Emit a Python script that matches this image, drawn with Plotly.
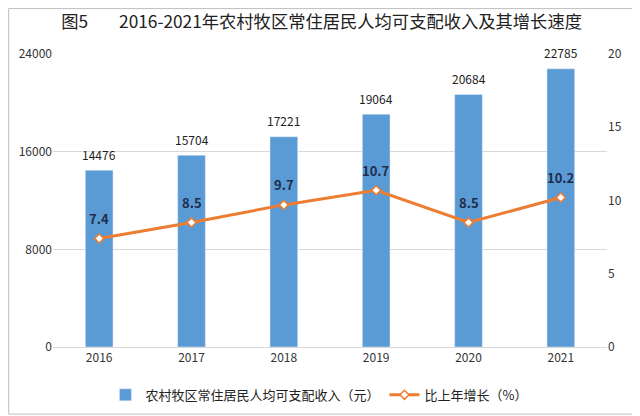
import plotly.graph_objects as go

years = ["2016", "2017", "2018", "2019", "2020", "2021"]
income = [14476, 15704, 17221, 19064, 20684, 22785]
growth = [7.4, 8.5, 9.7, 10.7, 8.5, 10.2]

font_cn = "Noto Sans CJK SC"

fig = go.Figure()
fig.add_trace(go.Bar(
    x=years, y=income, name="农村牧区常住居民人均可支配收入（元）",
    marker_color="#5B9BD5", width=0.3,
))
fig.add_trace(go.Scatter(
    x=years, y=growth, name="比上年增长（%）", yaxis="y2",
    mode="lines+markers", line=dict(color="#ED7D31", width=3),
    marker=dict(symbol="diamond", size=7, color="white",
                line=dict(color="#ED7D31", width=1.5)),
))

# 柱顶数值（类别轴上注释用序号定位）
for i, v in enumerate(income):
    fig.add_annotation(x=i, y=v, xref="x", yref="y", text=str(v), showarrow=False,
                       yanchor="middle", yshift=16, font=dict(size=12, color="#222222"))
# 增长率标签放在点上方
for i, g in enumerate(growth):
    fig.add_annotation(x=i, y=g, xref="x", yref="y2", text=f"<b>{g}</b>", showarrow=False,
                       yanchor="middle", yshift=20, font=dict(size=13, color="#1F2D4D"))

fig.update_layout(
    width=640, height=416,
    margin=dict(l=45, r=41, t=46, b=77),
    paper_bgcolor="white", plot_bgcolor="white",
    font=dict(family=font_cn, size=12, color="#333333"),
    title=dict(text="图5        2016-2021年农村牧区常住居民人均可支配收入及其增长速度",
               x=0.49, xanchor="center", y=0.966, yanchor="middle",
               font=dict(size=17.3, color="#222222")),
    xaxis=dict(type="category", showline=True, linecolor="#D9D9D9", ticks="",
               tickfont=dict(size=12), automargin=False),
    yaxis=dict(range=[0, 24000], dtick=8000, tickformat="d", showgrid=True,
               gridcolor="#D9D9D9", zeroline=False, tickfont=dict(size=12),
               automargin=False),
    yaxis2=dict(range=[0, 20], dtick=5, overlaying="y", side="right",
                showgrid=False, zeroline=False, tickfont=dict(size=12),
                automargin=False),
    legend=dict(orientation="h", x=0.48, xanchor="center", yref="container",
                y=0.07, yanchor="middle", font=dict(size=13, color="#222222")),
    bargap=0.7,
    shapes=[dict(type="rect", xref="paper", yref="paper", x0=-0.08, x1=1.056,
                 y0=-0.229, y1=1.155, line=dict(color="#BFBFBF", width=1))],
)

fig.write_html("out.html")
